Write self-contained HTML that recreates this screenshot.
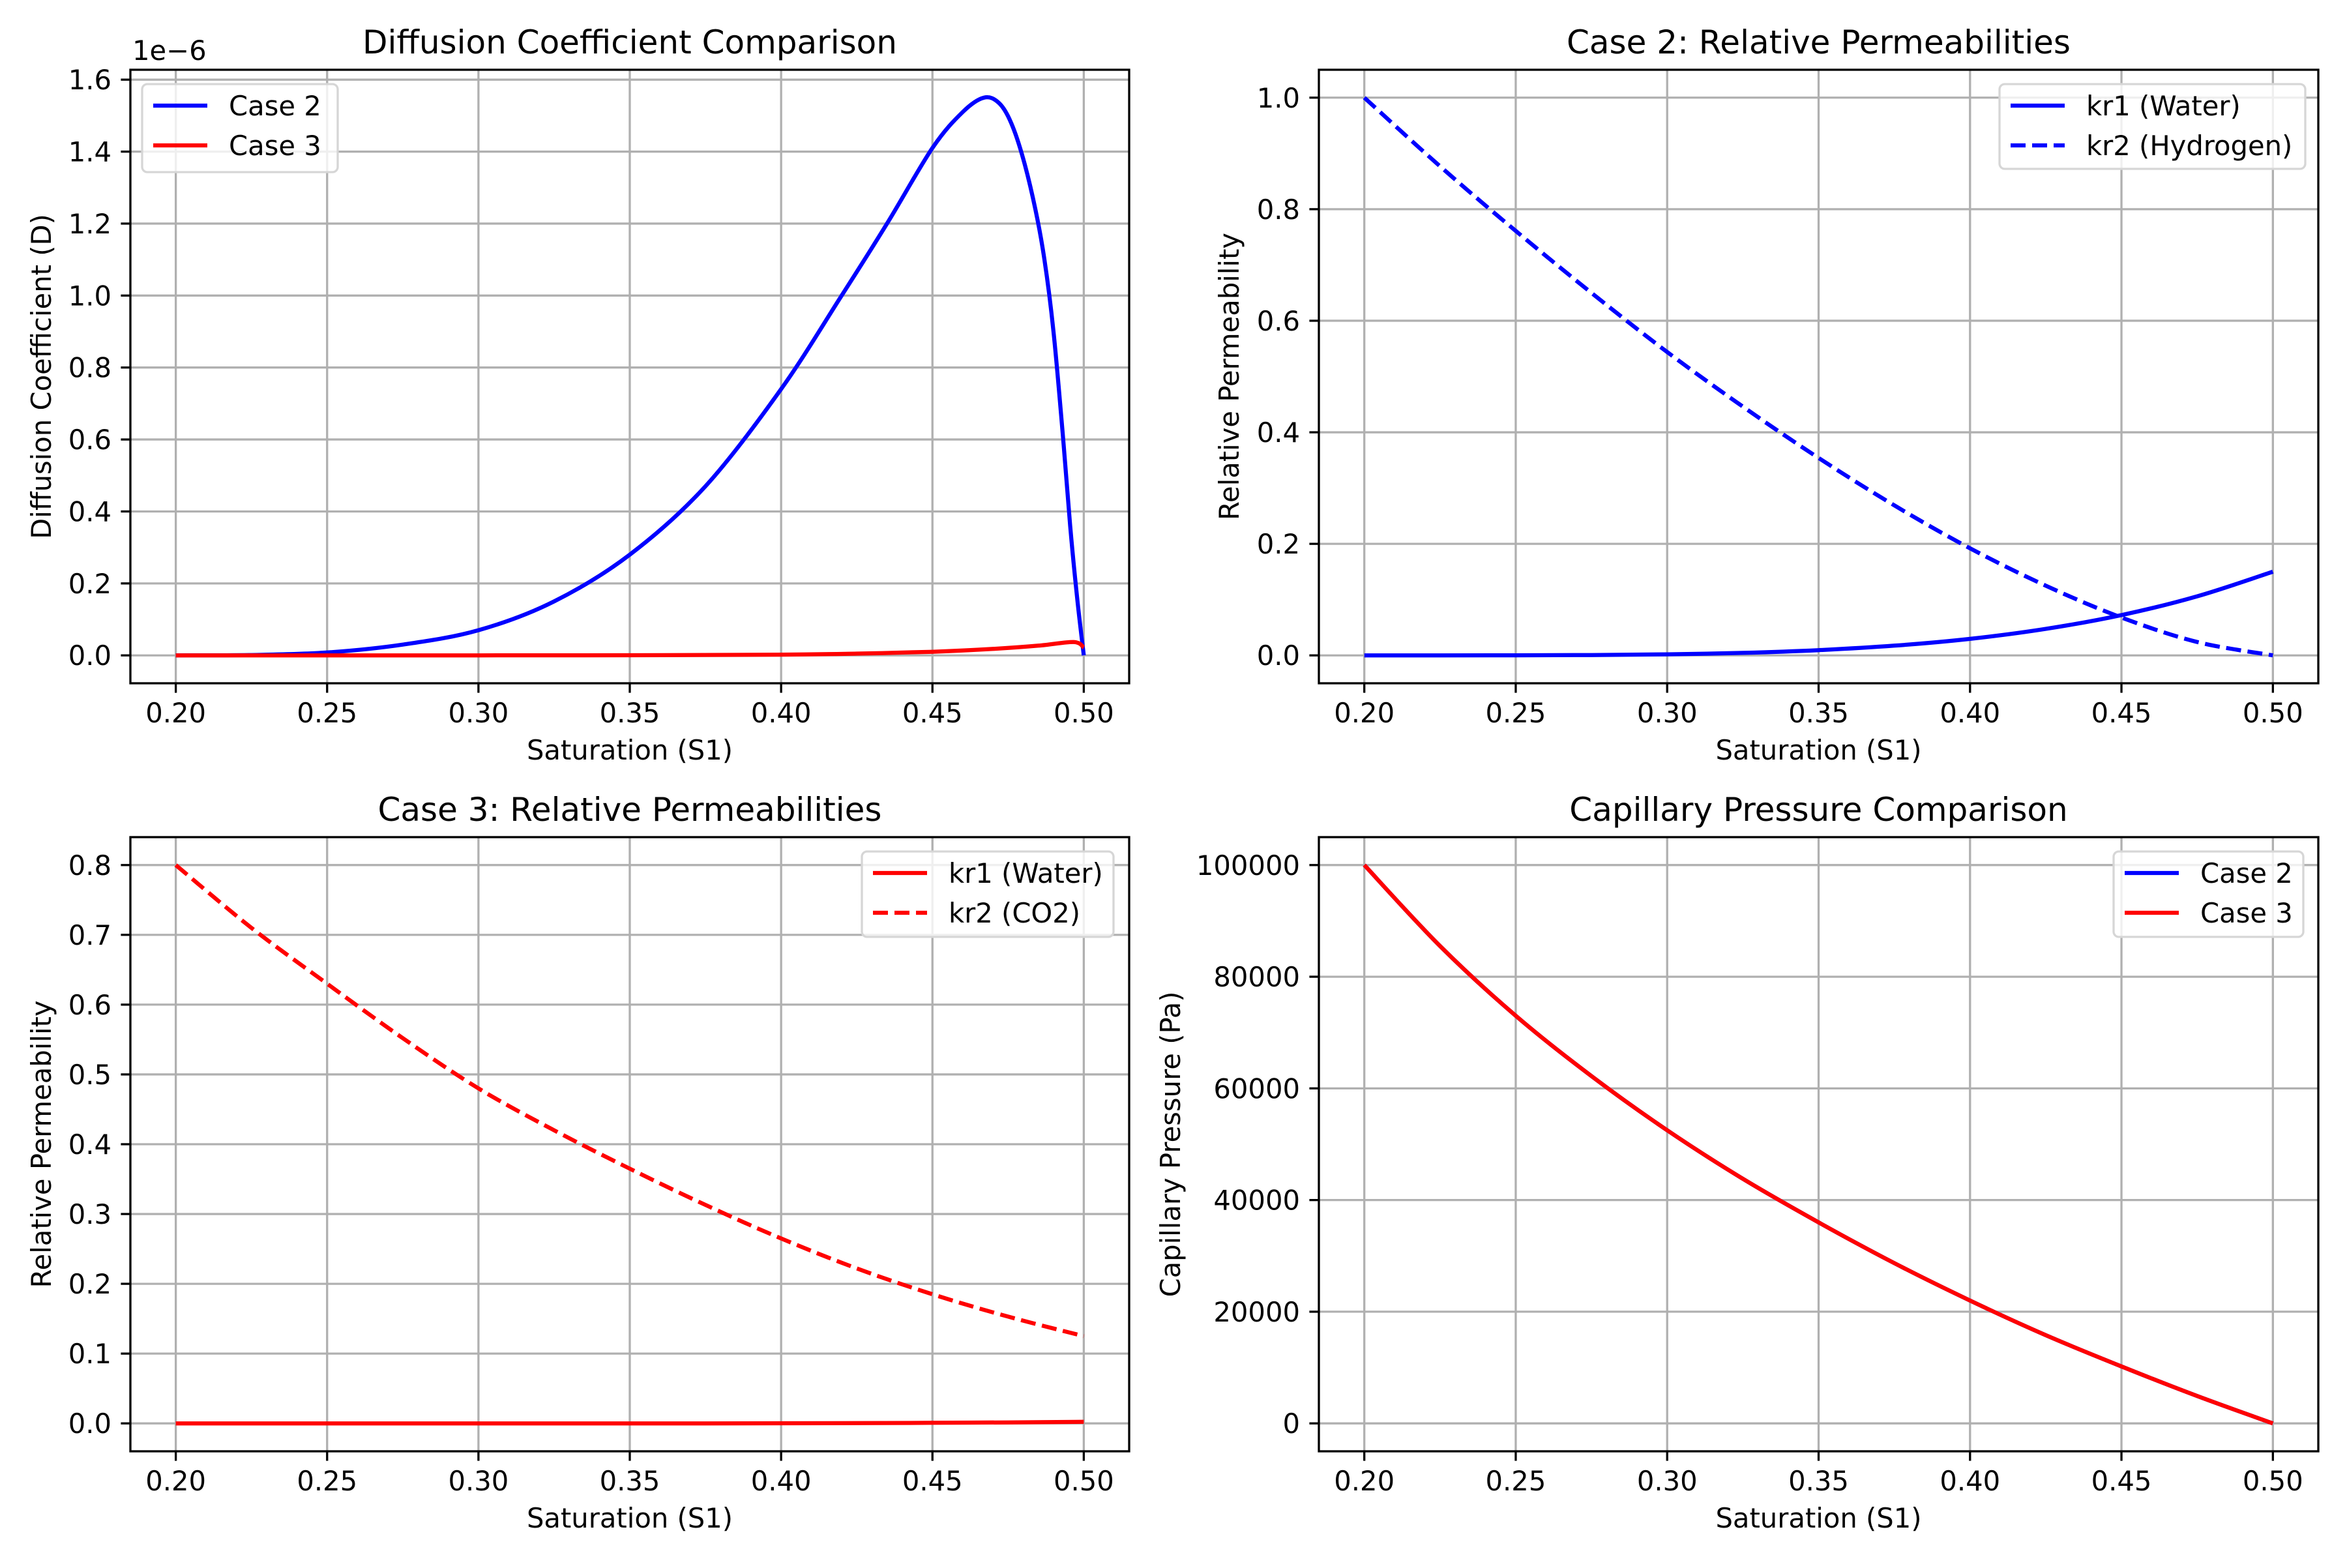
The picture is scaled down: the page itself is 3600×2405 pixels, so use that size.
<!DOCTYPE html>
<html><head><meta charset="utf-8"><style>
html,body{margin:0;padding:0;background:#fff}
svg text{font-family:"DejaVu Sans","Liberation Sans",sans-serif;fill:#000}
</style></head><body>
<svg id="fig" xmlns="http://www.w3.org/2000/svg" width="3600" height="2400" viewBox="0 0 3600 2400"></svg>
<script>
const S = [0.2,0.225,0.25,0.275,0.3,0.325,0.35,0.375,0.4,0.425,0.45,0.475,0.5];
const dS = [0.2,0.225,0.25,0.275,0.3,0.325,0.35,0.375,0.4,0.42,0.435,0.45,0.46,0.467,0.472,0.476,0.48,0.484,0.487,0.49,0.493,0.4955,0.4978,0.5];
const dCase2 = [0,0.001,0.008,0.03,0.07,0.15,0.28,0.47,0.74,1.0,1.2,1.41,1.51,1.55,1.535,1.48,1.38,1.24,1.1,0.9,0.62,0.36,0.16,0];
const dS3 = [0.2,0.3,0.35,0.4,0.425,0.45,0.47,0.485,0.4967,0.5];
const dCase3 = [0,0,0.0005,0.002,0.005,0.01,0.018,0.027,0.037,0.022];
const kr1Water2 = [0,0.000007,0.0001,0.0006,0.0019,0.0045,0.0094,0.0174,0.0296,0.0475,0.0723,0.1059,0.15];
const kr2H2 = [1,0.877,0.761,0.65,0.544,0.446,0.354,0.269,0.192,0.125,0.068,0.024,0];
const kr1Water3 = [0,0,0,0,0,0,0,0,0.0002,0.0004,0.0008,0.0014,0.0022];
const kr2CO2 = [0.8,0.71,0.63,0.552,0.48,0.42,0.365,0.313,0.265,0.222,0.185,0.153,0.125];
const pc2 = [100000,85500,73000,62200,52500,43800,36000,28700,22000,15800,10200,4900,0];
const pc3 = [100000,85500,73000,62200,52500,43800,36000,28700,22000,15800,10200,4900,0];
const xTicks = [0.2,0.25,0.3,0.35,0.4,0.45,0.5];
const yTicksD = [0,0.2,0.4,0.6,0.8,1.0,1.2,1.4,1.6];
const yTicksK2 = [0,0.2,0.4,0.6,0.8,1.0];
const yTicksK3 = [0,0.1,0.2,0.3,0.4,0.5,0.6,0.7,0.8];
const yTicksP = [0,20000,40000,60000,80000,100000];

const NS='http://www.w3.org/2000/svg';
const fig=document.getElementById('fig');
function mk(tag,attrs,parent){const e=document.createElementNS(NS,tag);for(const k in attrs)e.setAttribute(k,attrs[k]);(parent||fig).appendChild(e);return e;}
function smooth(P){
  let d='M'+P[0][0].toFixed(1)+','+P[0][1].toFixed(1);
  for(let i=0;i<P.length-1;i++){
    const p0=P[Math.max(i-1,0)],p1=P[i],p2=P[i+1],p3=P[Math.min(i+2,P.length-1)];
    const c1=[p1[0]+(p2[0]-p0[0])/6,p1[1]+(p2[1]-p0[1])/6];
    const c2=[p2[0]-(p3[0]-p1[0])/6,p2[1]-(p3[1]-p1[1])/6];
    d+=` C${c1[0].toFixed(1)},${c1[1].toFixed(1)} ${c2[0].toFixed(1)},${c2[1].toFixed(1)} ${p2[0].toFixed(1)},${p2[1].toFixed(1)}`;
  }
  return d;
}

function panel(o){
  const g=mk('g',{});
  
  
  const L=o.box[0],T=o.box[1],R=o.box[2],B=o.box[3];
  const xs=v=>L+(v-0.185)/(0.33)*(R-L);
  const ys=v=>B-(v-o.ylim[0])/(o.ylim[1]-o.ylim[0])*(B-T);
  xTicks.forEach(t=>{const l=mk('line',{x1:xs(t),x2:xs(t),y1:T,y2:B,stroke:'#b0b0b0','stroke-width':3.3},g);
    
    });
  o.yt.forEach(t=>{const l=mk('line',{x1:L,x2:R,y1:ys(t),y2:ys(t),stroke:'#b0b0b0','stroke-width':3.3},g);
    
    });
  o.series.forEach(s=>{
    const P=s.y.map((v,i)=>[xs(s.x[i]),ys(v)]);
    const p=mk('path',{d:smooth(P),fill:'none',stroke:s.color,'stroke-width':6.25,'stroke-linejoin':'round','stroke-dasharray':s.dash?'23 10':'none'},g);
    
    
  });
  const sp=mk('rect',{x:L,y:T,width:R-L,height:B-T,fill:'none',stroke:'#000','stroke-width':3.3},g);
  
  
  xTicks.forEach(t=>{
    mk('line',{x1:xs(t),x2:xs(t),y1:B,y2:B+14.6,stroke:'#000','stroke-width':3.3},g);
    const tx=mk('text',{x:xs(t),y:B+60,'text-anchor':'middle','font-size':41.7},g);
    tx.textContent=t.toFixed(2);
    
    
  });
  o.yt.forEach(t=>{
    mk('line',{x1:L-14.6,x2:L,y1:ys(t),y2:ys(t),stroke:'#000','stroke-width':3.3},g);
    const tx=mk('text',{x:L-29,y:ys(t)+15,'text-anchor':'end','font-size':41.7},g);
    tx.textContent=o.fmt(t);
    
    
  });
  const ti=mk('text',{x:(L+R)/2,y:T-25,'text-anchor':'middle','font-size':50},g);
  ti.textContent=o.title;
  
  
  const xl=mk('text',{x:(L+R)/2,y:B+117,'text-anchor':'middle','font-size':41.7},g);
  xl.textContent='Saturation (S1)';
  
  
  const yl=mk('text',{x:0,y:0,'text-anchor':'middle','font-size':41.7,transform:`translate(${o.ylx},${(T+B)/2}) rotate(-90)`},g);
  yl.textContent=o.ylabel;
  
  
  const lg=mk('g',{},g);
  
  
  const [lx,ly,lw,lh]=o.leg;
  mk('rect',{x:lx,y:ly,width:lw,height:lh,rx:8,fill:'#fff','fill-opacity':0.8,stroke:'#d6d6d6','stroke-width':3.3},lg);
  o.series.filter(s=>s.label).forEach((s,i)=>{
    const yy=ly+33+i*61;
    mk('line',{x1:lx+17,x2:lx+100,y1:yy,y2:yy,stroke:s.color,'stroke-width':6.25,'stroke-dasharray':s.dash?'23 10':'none'},lg);
    const t=mk('text',{x:lx+133,y:yy+15,'font-size':41.7},lg);
    t.textContent=s.label;
    
    
  });
}
const f1=v=>v.toFixed(1);
panel({name:'diffusion-panel',box:[200,107,1732,1048],ylim:[-0.0775,1.6275],yt:yTicksD,fmt:f1,
  title:'Diffusion Coefficient Comparison',ylabel:'Diffusion Coefficient (D)',ylx:78,leg:[218,129,300,135],
  series:[{id:'case2-diffusion-line',x:dS,y:dCase2,color:'#0000ff',label:'Case 2'},{id:'case3-diffusion-line',x:dS3,y:dCase3,color:'#ff0000',label:'Case 3'}]});
const ex=mk('text',{x:203,y:92,'font-size':41.7});
ex.textContent='1e\u22126';


panel({name:'case2-relperm-panel',box:[2023,107,3556,1048],ylim:[-0.05,1.05],yt:yTicksK2,fmt:f1,
  title:'Case 2: Relative Permeabilities',ylabel:'Relative Permeability',ylx:1900,leg:[3067,129,469,130],
  series:[{id:'kr1-water-line',x:S,y:kr1Water2,color:'#0000ff',label:'kr1 (Water)'},{id:'kr2-hydrogen-line',x:S,y:kr2H2,color:'#0000ff',dash:true,label:'kr2 (Hydrogen)'}]});
panel({name:'case3-relperm-panel',box:[200,1284,1732,2226],ylim:[-0.04,0.84],yt:yTicksK3,fmt:f1,
  title:'Case 3: Relative Permeabilities',ylabel:'Relative Permeability',ylx:78,leg:[1322,1306,386,131],
  series:[{id:'kr1-water-line',x:S,y:kr1Water3,color:'#ff0000',label:'kr1 (Water)'},{id:'kr2-co2-line',x:S,y:kr2CO2,color:'#ff0000',dash:true,label:'kr2 (CO2)'}]});
panel({name:'capillary-pressure-panel',box:[2023,1284,3556,2226],ylim:[-5000,105000],yt:yTicksP,fmt:v=>String(v),
  title:'Capillary Pressure Comparison',ylabel:'Capillary Pressure (Pa)',ylx:1810,leg:[3242,1306,291,131],
  series:[{id:'case2-pc-line',x:S,y:pc2,color:'#0000ff',label:'Case 2'},{id:'case3-pc-line',x:S,y:pc3,color:'#ff0000',label:'Case 3'}]});
</script>
</body></html>
